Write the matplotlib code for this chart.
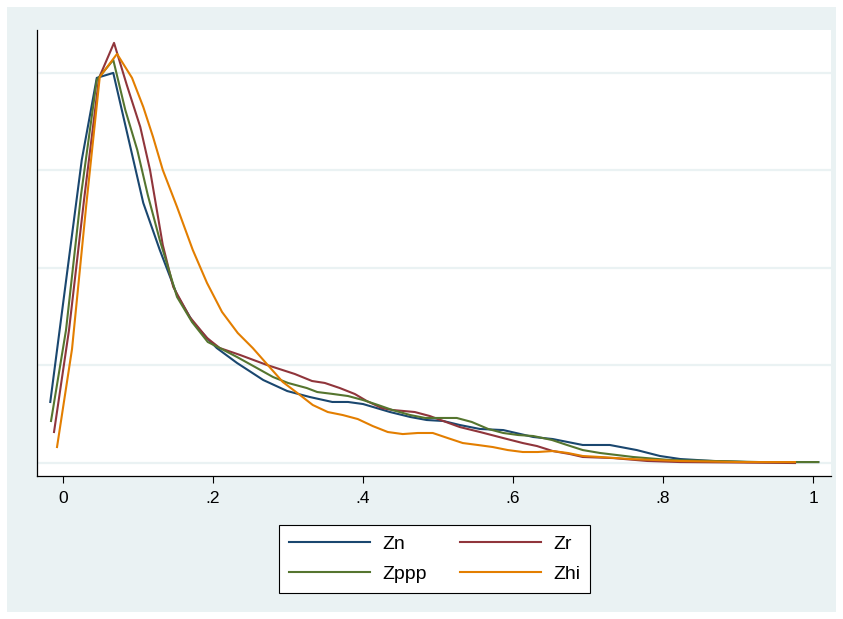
import numpy as np
import matplotlib.pyplot as plt
from matplotlib.patches import Rectangle

plt.rcParams.update({
    "font.family": ["Liberation Sans", "DejaVu Sans"],
    "font.size": 12,
})

# Density estimates (x, y)
zn_x = [-0.017, 0.025, 0.045, 0.067, 0.087, 0.107, 0.129, 0.152, 0.173, 0.192,
        0.205, 0.232, 0.267, 0.299, 0.329, 0.359, 0.380, 0.400, 0.436, 0.463,
        0.485, 0.507, 0.529, 0.556, 0.587, 0.627, 0.653, 0.693, 0.729, 0.765,
        0.796, 0.823, 0.867, 0.912, 0.965, 1.007]
zn_y = [0.626, 3.108, 3.949, 4.000, 3.333, 2.667, 2.185, 1.723, 1.446, 1.282,
        1.179, 1.026, 0.851, 0.738, 0.677, 0.626, 0.626, 0.605, 0.523, 0.472,
        0.441, 0.431, 0.390, 0.349, 0.338, 0.267, 0.246, 0.185, 0.185, 0.133,
        0.072, 0.041, 0.021, 0.010, 0.010, 0.010]

zr_x = [-0.012, 0.008, 0.028, 0.048, 0.068, 0.085, 0.103, 0.116, 0.133, 0.147,
        0.169, 0.192, 0.209, 0.236, 0.272, 0.309, 0.332, 0.349, 0.369, 0.389,
        0.405, 0.425, 0.439, 0.469, 0.489, 0.507, 0.529, 0.556, 0.587, 0.613,
        0.632, 0.653, 0.676, 0.693, 0.733, 0.779, 0.823, 0.903, 0.976]
zr_y = [0.318, 1.364, 2.697, 3.949, 4.308, 3.877, 3.446, 3.005, 2.236, 1.805,
        1.497, 1.282, 1.179, 1.108, 1.005, 0.913, 0.841, 0.821, 0.769, 0.708,
        0.636, 0.564, 0.544, 0.523, 0.482, 0.431, 0.369, 0.318, 0.256, 0.205,
        0.174, 0.123, 0.092, 0.062, 0.051, 0.021, 0.010, 0.005, 0.000]

zppp_x = [-0.016, 0.004, 0.024, 0.045, 0.067, 0.083, 0.099, 0.113, 0.129, 0.152,
          0.172, 0.193, 0.209, 0.232, 0.256, 0.280, 0.300, 0.325, 0.339, 0.360,
          0.380, 0.400, 0.420, 0.439, 0.463, 0.483, 0.503, 0.525, 0.545, 0.567,
          0.587, 0.607, 0.627, 0.652, 0.672, 0.693, 0.716, 0.760, 0.809, 0.867,
          0.929, 1.007]
zppp_y = [0.431, 1.364, 2.749, 3.928, 4.133, 3.621, 3.210, 2.749, 2.287, 1.703,
          1.446, 1.241, 1.179, 1.087, 0.985, 0.882, 0.821, 0.769, 0.728, 0.708,
          0.687, 0.646, 0.595, 0.544, 0.492, 0.462, 0.462, 0.462, 0.421, 0.349,
          0.308, 0.287, 0.277, 0.236, 0.185, 0.133, 0.103, 0.062, 0.031, 0.021,
          0.010, 0.010]

zhi_x = [-0.008, 0.012, 0.031, 0.049, 0.072, 0.092, 0.107, 0.120, 0.133, 0.152,
         0.173, 0.192, 0.212, 0.233, 0.253, 0.273, 0.293, 0.316, 0.333, 0.353,
         0.373, 0.393, 0.413, 0.433, 0.453, 0.473, 0.493, 0.513, 0.533, 0.553,
         0.573, 0.593, 0.613, 0.633, 0.653, 0.673, 0.693, 0.716, 0.756, 0.823,
         0.903, 0.976]
zhi_y = [0.164, 1.169, 2.646, 3.959, 4.195, 3.949, 3.651, 3.344, 3.005, 2.626,
         2.185, 1.846, 1.549, 1.333, 1.179, 1.005, 0.831, 0.697, 0.595, 0.523,
         0.492, 0.451, 0.379, 0.318, 0.297, 0.308, 0.308, 0.256, 0.205, 0.185,
         0.164, 0.133, 0.113, 0.113, 0.123, 0.103, 0.072, 0.062, 0.041, 0.021,
         0.010, 0.010]

x_ticks = [0, 0.2, 0.4, 0.6, 0.8, 1]
x_ticklabels = ["0", ".2", ".4", ".6", ".8", "1"]

navy = (26/255, 71/255, 111/255)
maroon = (144/255, 53/255, 59/255)
green = (85/255, 117/255, 47/255)
orange = (227/255, 126/255, 0/255)
bg = "#EAF2F3"

W, H = 843, 619
fig = plt.figure(figsize=(W/100, H/100), dpi=100)
fig.patches.append(Rectangle((7/W, 7/H), 1 - 14/W, 1 - 14/H,
                             transform=fig.transFigure, facecolor=bg,
                             edgecolor="none", zorder=-10))

ax = fig.add_axes([37/W, (H - 476)/H, (831 - 37)/W, (476 - 30)/H])
ax.set_facecolor("white")

h1, = ax.plot(zn_x, zn_y, color=navy, lw=1.5, label="Zn")
h2, = ax.plot(zr_x, zr_y, color=maroon, lw=1.5, label="Zr")
h3, = ax.plot(zppp_x, zppp_y, color=green, lw=1.5, label="Zppp")
h4, = ax.plot(zhi_x, zhi_y, color=orange, lw=1.5, label="Zhi")

ax.set_xlim(-0.0347, 1.024)
ax.set_ylim(-0.133, 4.44)

ax.set_yticks([0, 1, 2, 3, 4])
ax.set_yticklabels([])
ax.tick_params(axis="y", length=0)
ax.grid(axis="y", color=bg, lw=1.6)
ax.set_axisbelow(True)

ax.set_xticks(x_ticks)
ax.set_xticklabels(x_ticklabels, fontsize=12.5)
ax.tick_params(axis="x", length=5, width=0.8, pad=6, colors="black")

for s in ["top", "right"]:
    ax.spines[s].set_visible(False)
ax.spines["left"].set_linewidth(0.9)
ax.spines["bottom"].set_linewidth(0.9)

# Stata fills legend rows first
leg = fig.legend([h1, h3, h2, h4], ["Zn", "Zppp", "Zr", "Zhi"],
                 loc="center", bbox_to_anchor=(434.5/W, 1 - 559/H), ncol=2,
                 fontsize=14, handlelength=4.2, handletextpad=0.6,
                 columnspacing=1.7, labelspacing=0.65, fancybox=False,
                 frameon=True, borderpad=0.5, borderaxespad=0)
leg.get_frame().set_edgecolor("black")
leg.get_frame().set_linewidth(0.8)
leg.get_frame().set_facecolor("white")
leg.get_frame().set_alpha(1)

fig.savefig("out.png", dpi=100, facecolor="white")
